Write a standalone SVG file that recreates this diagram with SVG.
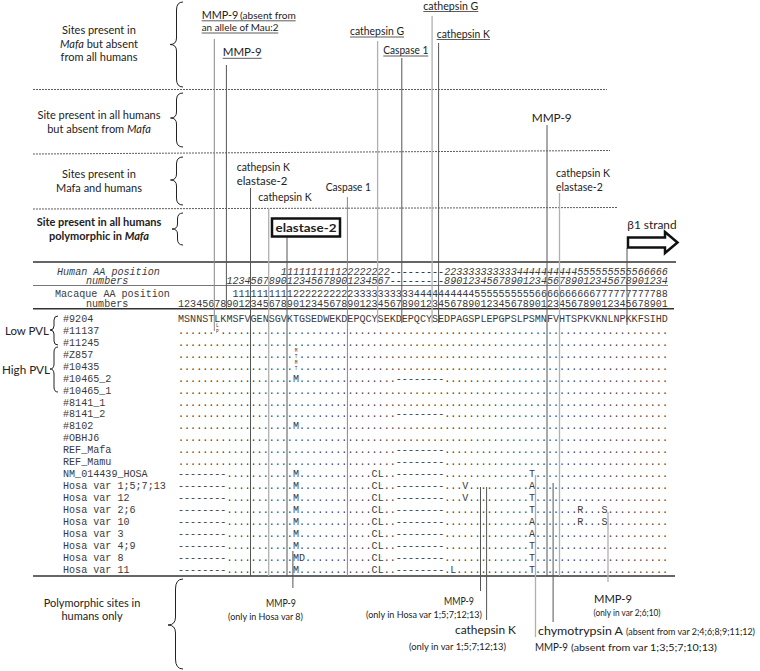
<svg xmlns="http://www.w3.org/2000/svg" width="760" height="671" viewBox="0 0 760 671">
<style>
.lb{font-family:Lato,"Open Sans",sans-serif;fill:#222;font-size:11.5px}
.lc{font-family:Lato,"Open Sans",sans-serif;fill:#222;font-size:11px;text-anchor:middle}
.sm{font-family:Lato,"Open Sans",sans-serif;fill:#222;font-size:10px}
.mono{font-family:"Liberation Mono","Courier New",monospace;font-size:10.08px;fill:#3a3a3a}
.it{font-style:italic}
.tiny{font-family:"Liberation Mono",monospace;font-size:4.5px;fill:#333;text-anchor:middle}
.dash{stroke:#333;stroke-width:0.8;stroke-dasharray:2 1;fill:none}
.brace{fill:none;stroke:#222;stroke-width:1}
.vd{stroke:#555;stroke-width:1}
.vm{stroke:#888;stroke-width:1}
.vl{stroke:#b0b0b0;stroke-width:1.3}
.ul{stroke:#333;stroke-width:0.8}
</style>
<rect width="760" height="671" fill="#fff"/>

<g id="category-lines">
<line class="dash" x1="33" y1="89.5" x2="607" y2="89.5"/>
<line class="dash" x1="33" y1="154" x2="610" y2="150.5"/>
<line class="dash" x1="33" y1="209" x2="617" y2="207.5"/>
</g>

<g id="category-labels">
<text class="lc" x="99" y="34">Sites present in</text>
<text class="lc" x="99" y="47.5"><tspan font-style="italic">Mafa</tspan> but absent</text>
<text class="lc" x="99" y="61">from all humans</text>
<text class="lc" x="99" y="119">Site present in all humans</text>
<text class="lc" x="99" y="133">but absent from  <tspan font-style="italic">Mafa</tspan></text>
<text class="lc" x="99" y="178">Sites present in</text>
<text class="lc" x="99" y="191.5">Mafa and humans</text>
<text class="lc" x="99" y="225.5" font-weight="bold">Site present in all humans</text>
<text class="lc" x="99" y="240" font-weight="bold">polymorphic in <tspan font-style="italic">Mafa</tspan></text>
<text class="lc" x="92" y="607">Polymorphic sites in</text>
<text class="lc" x="92" y="620">humans only</text>
<path class="brace" d="M183,2 Q176.5,2 176.5,10 L176.5,38 Q176.5,44.5 170,44.5 Q176.5,44.5 176.5,51 L176.5,79 Q176.5,87 183,87"/>
<path class="brace" d="M183,93 Q176.5,93 176.5,100 L176.5,112 Q176.5,118 170.5,118 Q176.5,118 176.5,124 L176.5,140 Q176.5,147 183,147"/>
<path class="brace" d="M183,157 Q176.5,157 176.5,164 L176.5,174 Q176.5,180 170.5,180 Q176.5,180 176.5,186 L176.5,198 Q176.5,205 183,205"/>
<path class="brace" d="M183,213 Q177.5,213 177.5,219 L177.5,224 Q177.5,229 172,229 Q177.5,229 177.5,234 L177.5,239 Q177.5,245 183,245"/>
<path class="brace" d="M183,579 Q175.5,579 175.5,589 L175.5,617 Q175.5,625 168,625 Q175.5,625 175.5,633 L175.5,659 Q175.5,669 183,669"/>
</g>

<g id="pvl-labels">
<text class="lb" x="5" y="335" font-size="14" fill="#111" textLength="44" lengthAdjust="spacingAndGlyphs">Low PVL</text>
<text class="lb" x="2" y="373.5" font-size="14" fill="#111" textLength="48" lengthAdjust="spacingAndGlyphs">High PVL</text>
<path class="brace" d="M58,316 Q54,316 54,320 L54,326 Q54,330 50,330 Q54,330 54,334 L54,341 Q54,345 58,345"/>
<path class="brace" d="M58,347 Q54,347 54,352 L54,364 Q54,369 50,369 Q54,369 54,374 L54,387 Q54,392 58,392"/>
</g>

<g id="table-rules">
<line x1="33" y1="262" x2="676" y2="262" stroke="#333" stroke-width="1.6"/>
<line x1="33" y1="285.5" x2="668" y2="285.5" stroke="#555" stroke-width="0.8"/>
<line x1="33" y1="308.7" x2="674" y2="308.7" stroke="#333" stroke-width="1.6"/>
<line x1="33" y1="576" x2="675" y2="576" stroke="#333" stroke-width="1.6"/>
</g>

<g id="table-header" class="mono">
<text x="57" y="274.5" class="it">Human AA position</text>
<text x="86" y="284" class="it">numbers</text>
<text x="55" y="296.5">Macaque AA position</text>
<text x="86" y="306.5">numbers</text>
<text x="280.85" y="274.5" class="it">111111111122222222---------2233333333334444444444555555555566666</text>
<text x="226.4" y="284" class="it">123456789012345678901234567---------8901234567890123456789012345678901234</text>
<text x="232.45" y="296.5">111111111122222222223333333333444444444455555555556666666666777777777788</text>
<text x="178" y="306.5">123456789012345678901234567890123456789012345678901234567890123456789012345678901</text>
</g>

<g id="row-names" class="mono">
<text x="63" y="322">#9204</text>
<text x="63" y="333.93">#11137</text>
<text x="63" y="345.86">#11245</text>
<text x="63" y="357.79">#Z857</text>
<text x="63" y="369.72">#10435</text>
<text x="63" y="381.65">#10465_2</text>
<text x="63" y="393.58">#10465_1</text>
<text x="63" y="405.51">#8141_1</text>
<text x="63" y="417.44">#8141_2</text>
<text x="63" y="429.37">#8102</text>
<text x="63" y="441.3">#OBHJ6</text>
<text x="63" y="453.23">REF_Mafa</text>
<text x="63" y="465.16">REF_Mamu</text>
<text x="63" y="477.09">NM_014439_HOSA</text>
<text x="63" y="489.02">Hosa var 1;5;7;13</text>
<text x="63" y="500.95">Hosa var 12</text>
<text x="63" y="512.88">Hosa var 2;6</text>
<text x="63" y="524.81">Hosa var 10</text>
<text x="63" y="536.74">Hosa var 3</text>
<text x="63" y="548.67">Hosa var 4;9</text>
<text x="63" y="560.6">Hosa var 8</text>
<text x="63" y="572.53">Hosa var 11</text>
</g>

<g id="mafa-rows" class="mono">
<text x="178" y="322">MSNNSTLKMSFVGENSGVKTGSEDWEKDEPQCYSEKDEPQCYSEDPAGSPLEPGPSLPSMNFVHTSPKVKNLNPKKFSIHD</text>
<text y="333.93"><tspan x="178">......&#160;............</tspan><tspan x="292.95">.</tspan><tspan x="299">................</tspan><tspan x="395.8">........</tspan><tspan x="444.2">.....................................</tspan></text>
<text y="345.86"><tspan x="178">...................</tspan><tspan x="292.95">.</tspan><tspan x="299">................</tspan><tspan x="395.8">........</tspan><tspan x="444.2">.....................................</tspan></text>
<text y="357.79"><tspan x="178">...................</tspan><tspan x="299">................</tspan><tspan x="395.8">........</tspan><tspan x="444.2">.....................................</tspan></text>
<text y="369.72"><tspan x="178">...................</tspan><tspan x="299">................</tspan><tspan x="395.8">........</tspan><tspan x="444.2">.....................................</tspan></text>
<text y="381.65"><tspan x="178">...................</tspan><tspan x="292.95">M</tspan><tspan x="299">................</tspan><tspan x="395.8">--------</tspan><tspan x="444.2">.....................................</tspan></text>
<text y="393.58"><tspan x="178">...................</tspan><tspan x="292.95">.</tspan><tspan x="299">................</tspan><tspan x="395.8">........</tspan><tspan x="444.2">.....................................</tspan></text>
<text y="405.51"><tspan x="178">...................</tspan><tspan x="292.95">.</tspan><tspan x="299">................</tspan><tspan x="395.8">........</tspan><tspan x="444.2">.....................................</tspan></text>
<text y="417.44"><tspan x="178">...................</tspan><tspan x="292.95">.</tspan><tspan x="299">................</tspan><tspan x="395.8">--------</tspan><tspan x="444.2">.....................................</tspan></text>
<text y="429.37"><tspan x="178">...................</tspan><tspan x="292.95">M</tspan><tspan x="299">................</tspan><tspan x="395.8">........</tspan><tspan x="444.2">.....................................</tspan></text>
<text y="441.3"><tspan x="178">...................</tspan><tspan x="292.95">.</tspan><tspan x="299">................</tspan><tspan x="395.8">........</tspan><tspan x="444.2">.....................................</tspan></text>
<text y="453.23"><tspan x="178">...................</tspan><tspan x="292.95">.</tspan><tspan x="299">................</tspan><tspan x="395.8">--------</tspan><tspan x="444.2">.....................................</tspan></text>
<text y="465.16"><tspan x="178">...................</tspan><tspan x="292.95">.</tspan><tspan x="299">................</tspan><tspan x="395.8">--------</tspan><tspan x="444.2">.....................................</tspan></text>
<text class="tiny" x="217.3" y="327">L</text>
<text class="tiny" x="217.3" y="332.5">P</text>
<text class="tiny" x="296" y="351.5">M</text>
<text class="tiny" x="296" y="357.5">T</text>
<text class="tiny" x="296" y="363.5">M</text>
<text class="tiny" x="296" y="369.5">T</text>
</g>

<g id="human-rows" class="mono">
<text y="477.09"><tspan x="178">--------</tspan><tspan x="226.4">...........</tspan><tspan x="292.95">M.</tspan><tspan x="305.05">...........</tspan><tspan x="371.6">CL..</tspan><tspan x="395.8">--------</tspan><tspan x="444.2">..............</tspan><tspan x="528.9">T</tspan><tspan x="534.95">......................</tspan></text>
<text y="489.02"><tspan x="178">--------</tspan><tspan x="226.4">...........</tspan><tspan x="292.95">M.</tspan><tspan x="305.05">...........</tspan><tspan x="371.6">CL..</tspan><tspan x="395.8">--------</tspan><tspan x="444.2">...V..........</tspan><tspan x="528.9">A</tspan><tspan x="534.95">......................</tspan></text>
<text y="500.95"><tspan x="178">--------</tspan><tspan x="226.4">...........</tspan><tspan x="292.95">M.</tspan><tspan x="305.05">...........</tspan><tspan x="371.6">CL..</tspan><tspan x="395.8">--------</tspan><tspan x="444.2">...V..........</tspan><tspan x="528.9">T</tspan><tspan x="534.95">......................</tspan></text>
<text y="512.88"><tspan x="178">--------</tspan><tspan x="226.4">...........</tspan><tspan x="292.95">M.</tspan><tspan x="305.05">...........</tspan><tspan x="371.6">CL..</tspan><tspan x="395.8">--------</tspan><tspan x="444.2">..............</tspan><tspan x="528.9">T</tspan><tspan x="534.95">.......R...S..........</tspan></text>
<text y="524.81"><tspan x="178">--------</tspan><tspan x="226.4">...........</tspan><tspan x="292.95">M.</tspan><tspan x="305.05">...........</tspan><tspan x="371.6">CL..</tspan><tspan x="395.8">--------</tspan><tspan x="444.2">..............</tspan><tspan x="528.9">A</tspan><tspan x="534.95">.......R...S..........</tspan></text>
<text y="536.74"><tspan x="178">--------</tspan><tspan x="226.4">...........</tspan><tspan x="292.95">M.</tspan><tspan x="305.05">...........</tspan><tspan x="371.6">CL..</tspan><tspan x="395.8">--------</tspan><tspan x="444.2">..............</tspan><tspan x="528.9">A</tspan><tspan x="534.95">......................</tspan></text>
<text y="548.67"><tspan x="178">--------</tspan><tspan x="226.4">...........</tspan><tspan x="292.95">M.</tspan><tspan x="305.05">...........</tspan><tspan x="371.6">CL..</tspan><tspan x="395.8">--------</tspan><tspan x="444.2">..............</tspan><tspan x="528.9">T</tspan><tspan x="534.95">......................</tspan></text>
<text y="560.6"><tspan x="178">--------</tspan><tspan x="226.4">...........</tspan><tspan x="292.95">MD</tspan><tspan x="305.05">...........</tspan><tspan x="371.6">CL..</tspan><tspan x="395.8">--------</tspan><tspan x="444.2">..............</tspan><tspan x="528.9">T</tspan><tspan x="534.95">......................</tspan></text>
<text y="572.53"><tspan x="178">--------</tspan><tspan x="226.4">...........</tspan><tspan x="292.95">M.</tspan><tspan x="305.05">...........</tspan><tspan x="371.6">CL..</tspan><tspan x="395.8">--------</tspan><tspan x="444.2">.L............</tspan><tspan x="528.9">T</tspan><tspan x="534.95">......................</tspan></text>
</g>

<g id="connectors">
<line class="vm" x1="214.3" y1="39" x2="214.3" y2="331"/>
<line class="vd" x1="226.4" y1="65" x2="226.4" y2="309"/>
<line class="vd" x1="250.5" y1="188" x2="250.5" y2="576"/>
<line class="vl" x1="268.7" y1="208" x2="268.7" y2="576"/>
<line class="vd" x1="287" y1="237" x2="287" y2="576"/>
<line class="vd" x1="292.9" y1="551" x2="292.9" y2="588"/>
<line class="vm" x1="347.4" y1="197" x2="347.4" y2="576"/>
<line class="vl" x1="377.6" y1="41" x2="377.6" y2="323"/>
<line class="vd" x1="401.8" y1="58" x2="401.8" y2="323"/>
<line class="vl" x1="432.1" y1="16" x2="432.1" y2="323"/>
<line class="vd" x1="438.6" y1="43" x2="438.6" y2="323"/>
<line class="vd" x1="480.5" y1="487" x2="480.5" y2="591"/>
<line class="vd" x1="486.6" y1="487" x2="486.6" y2="620"/>
<line class="vl" x1="535.5" y1="475" x2="535.5" y2="637"/>
<line class="vd" x1="547" y1="125" x2="547" y2="576"/>
<line class="vd" x1="553.1" y1="483" x2="553.1" y2="622"/>
<line class="vl" x1="559.5" y1="193" x2="559.5" y2="576"/>
<line class="vl" x1="608" y1="512" x2="608" y2="582"/>
<line class="vd" x1="627" y1="248" x2="627" y2="325"/>
</g>

<g id="top-sites">
<text class="lb" x="201.7" y="18.5" font-size="13" textLength="36.7" lengthAdjust="spacingAndGlyphs">MMP-9</text>
<text class="sm" x="240" y="18.5" textLength="55.7" lengthAdjust="spacingAndGlyphs">(absent from</text>
<line class="ul" x1="201.7" y1="20.8" x2="295.7" y2="20.8"/>
<text class="sm" x="201.7" y="31" textLength="76.7" lengthAdjust="spacingAndGlyphs">an allele  of Mau:2</text>
<line class="ul" x1="201.7" y1="33" x2="278.3" y2="33"/>
<text class="lb" x="222.7" y="56" font-size="13" textLength="39" lengthAdjust="spacingAndGlyphs">MMP-9</text>
<line class="ul" x1="222.7" y1="58.3" x2="261.7" y2="58.3"/>
<text class="lb" x="350" y="35" textLength="54" lengthAdjust="spacingAndGlyphs">cathepsin G</text>
<line class="ul" x1="350" y1="37" x2="404" y2="37"/>
<text class="lb" x="383.3" y="53.5" textLength="45" lengthAdjust="spacingAndGlyphs">Caspase 1</text>
<line class="ul" x1="383.3" y1="56" x2="428.3" y2="56"/>
<text class="lb" x="423.3" y="9.5" textLength="55" lengthAdjust="spacingAndGlyphs">cathepsin G</text>
<line class="ul" x1="423.3" y1="11.5" x2="478.3" y2="11.5"/>
<text class="lb" x="436.7" y="37.5" textLength="53.3" lengthAdjust="spacingAndGlyphs">cathepsin K</text>
<line class="ul" x1="436.7" y1="39.5" x2="490" y2="39.5"/>
<text class="lb" x="531.7" y="121.5" font-size="13" textLength="40" lengthAdjust="spacingAndGlyphs">MMP-9</text>
</g>

<g id="mid-sites">
<text class="lb" x="236.7" y="171" textLength="53.3" lengthAdjust="spacingAndGlyphs">cathepsin K</text>
<text class="lb" x="236.7" y="185" textLength="50.7" lengthAdjust="spacingAndGlyphs">elastase-2</text>
<text class="lb" x="258.3" y="201" textLength="53.4" lengthAdjust="spacingAndGlyphs">cathepsin K</text>
<text class="lb" x="325.7" y="191" textLength="45.3" lengthAdjust="spacingAndGlyphs">Caspase 1</text>
<rect x="272" y="218.5" width="68" height="18" fill="#fff" stroke="#111" stroke-width="2.5"/>
<text class="lb" x="275.5" y="232" font-size="13.5" font-weight="bold" fill="#111" textLength="61" lengthAdjust="spacingAndGlyphs">elastase-2</text>
<text class="lb" x="556" y="177" textLength="54" lengthAdjust="spacingAndGlyphs">cathepsin K</text>
<text class="lb" x="556" y="190.5" textLength="46.7" lengthAdjust="spacingAndGlyphs">elastase-2</text>
<text class="lb" x="627.3" y="228.5" font-size="12.5" textLength="49.3" lengthAdjust="spacingAndGlyphs">β1 strand</text>
<polygon points="628,237.5 665,237.5 665,232 677.5,242.5 665,253 665,247.5 628,247.5" fill="#fff" stroke="#111" stroke-width="2.5" stroke-linejoin="miter"/>
</g>

<g id="bottom-sites">
<text class="lb" x="266" y="607" font-size="13" textLength="30" lengthAdjust="spacingAndGlyphs">MMP-9</text>
<text class="sm" x="228" y="619.5" textLength="75" lengthAdjust="spacingAndGlyphs">(only in Hosa var 8)</text>
<text class="lb" x="444" y="604.5" font-size="13" textLength="30" lengthAdjust="spacingAndGlyphs">MMP-9</text>
<text class="sm" x="366" y="617.5" textLength="116" lengthAdjust="spacingAndGlyphs">(only in Hosa var 1;5;7;12;13)</text>
<text class="lb" x="455" y="633.5" font-size="13" textLength="61" lengthAdjust="spacingAndGlyphs">cathepsin K</text>
<text class="sm" x="409" y="650" textLength="97" lengthAdjust="spacingAndGlyphs">(only in var 1;5;7;12;13)</text>
<text class="lb" x="535" y="650.5" font-size="13" textLength="33" lengthAdjust="spacingAndGlyphs">MMP-9</text>
<text class="sm" x="571" y="650.5" textLength="146" lengthAdjust="spacingAndGlyphs">(absent from var 1;3;5;7;10;13)</text>
<text class="lb" x="538" y="635" font-size="13" textLength="85" lengthAdjust="spacingAndGlyphs">chymotrypsin A</text>
<text class="sm" x="626" y="635" textLength="129" lengthAdjust="spacingAndGlyphs">(absent from var 2;4;6;8;9;11;12)</text>
<text class="lb" x="594" y="602.5" font-size="13" textLength="38" lengthAdjust="spacingAndGlyphs">MMP-9</text>
<text class="sm" x="593.5" y="616" textLength="67" lengthAdjust="spacingAndGlyphs">(only in var 2;6;10)</text>
</g>
</svg>
